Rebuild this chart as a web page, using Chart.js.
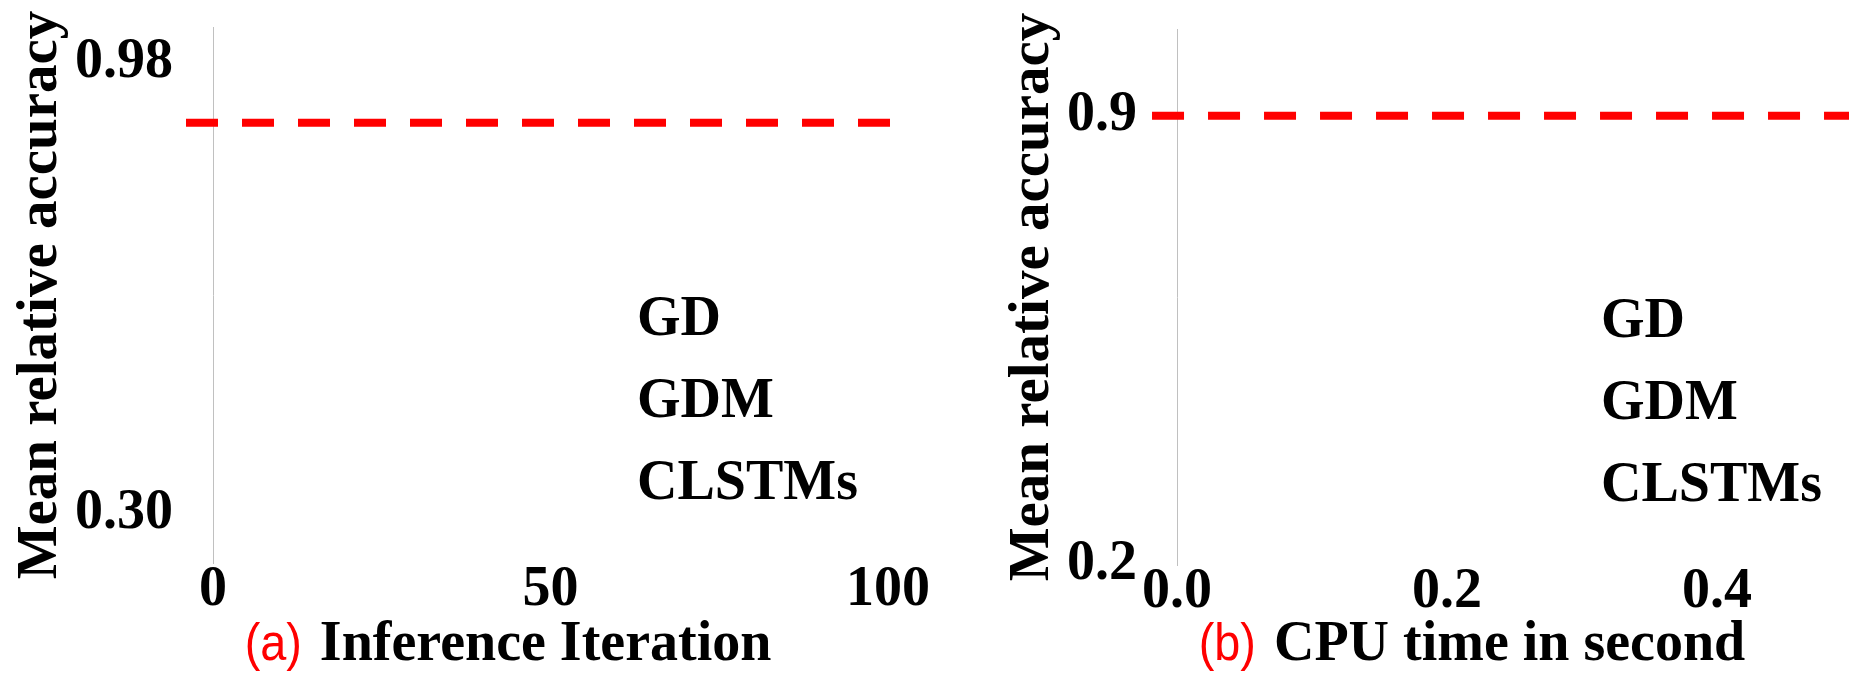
<!DOCTYPE html>
<html>
<head>
<meta charset="utf-8">
<script src="https://cdn.jsdelivr.net/npm/chart.js@4.4.1/dist/chart.umd.min.js"></script>
<style>
  html, body { margin: 0; padding: 0; background: #fff; overflow: hidden; }
  body { width: 1849px; height: 673px; position: relative; }
  canvas { position: absolute; top: 0; }
  #iterChart { left: 0; }
  #cpuChart { left: 960px; }
</style>
</head>
<body>
<canvas id="iterChart" width="932" height="673"></canvas>
<canvas id="cpuChart" width="930" height="673"></canvas>
<script>
// legend series (no visible points in either panel)
const seriesNames = ["GD", "GDM", "CLSTMs"];
const iterGD = [];
const iterGDM = [];
const iterCLSTMs = [];
const cpuGD = [];
const cpuGDM = [];
const cpuCLSTMs = [];

// red dashed reference level
const iterRefX = [-4, 100.4];
const iterRefY = [0.89, 0.89];
const cpuRefX = [-0.0185, 0.5];
const cpuRefY = [0.9, 0.9];

// tick values + labels
const iterXTicks = [0, 50, 100];
const iterXLabels = ["0", "50", "100"];
const iterYTicks = [0.3, 0.98];
const iterYLabels = ["0.30", "0.98"];
const cpuXTicks = [0, 0.2, 0.4];
const cpuXLabels = ["0.0", "0.2", "0.4"];
const cpuYTicks = [0.2, 0.9];
const cpuYLabels = ["0.2", "0.9"];

const SERIF = "'Liberation Serif', 'Times New Roman', serif";
const SANS = "'Liberation Sans', Arial, sans-serif";

// legend drawn inside the plot area, text only
const innerLegend = {
  id: "innerLegend",
  afterDraw(chart, args, opts) {
    const { ctx, chartArea } = chart;
    ctx.save();
    ctx.font = "bold 56px " + SERIF;
    ctx.fillStyle = "#000";
    ctx.textAlign = "left";
    ctx.textBaseline = "alphabetic";
    let row = 0;
    chart.data.datasets.forEach((ds) => {
      if (ds.isRef) return;
      ctx.fillText(ds.label, chartArea.left + opts.x, chartArea.top + opts.top + row * opts.step);
      row++;
    });
    ctx.restore();
  },
};

// x axis caption with red "(a)" prefix
const xCaption = {
  id: "xCaption",
  afterDraw(chart, args, opts) {
    const { ctx, chartArea } = chart;
    const squeeze = 0.9; // prefix is a narrow sans
    ctx.save();
    ctx.textBaseline = "alphabetic";
    ctx.textAlign = "left";
    ctx.font = "52px " + SANS;
    const wp = ctx.measureText(opts.prefix).width * squeeze;
    ctx.font = "bold 56px " + SERIF;
    const wm = ctx.measureText(opts.text).width;
    const gap = 18;
    const x = chartArea.left + opts.center - (wp + gap + wm) / 2;
    ctx.save();
    ctx.translate(x, opts.baseline);
    ctx.scale(squeeze, 1);
    ctx.font = "52px " + SANS;
    ctx.fillStyle = "#ff0000";
    ctx.fillText(opts.prefix, 0, 0);
    ctx.restore();
    ctx.font = "bold 56px " + SERIF;
    ctx.fillStyle = "#000";
    ctx.fillText(opts.text, x + wp + gap, opts.baseline);
    ctx.restore();
  },
};

function makePanel(id, p) {
  const ctx = document.getElementById(id).getContext("2d");
  const series = [p.gd, p.gdm, p.clstm].map((d, i) => ({
    label: seriesNames[i],
    data: d,
    pointRadius: 0,
    borderWidth: 3,
  }));
  const ref = {
    label: "reference",
    isRef: true,
    data: p.refX.map((x, i) => ({ x: x, y: p.refY[i] })),
    borderColor: "#ff0000",
    borderWidth: 8,
    borderDash: [32, 24],
    pointRadius: 0,
    fill: false,
    clip: false,
  };
  return new Chart(ctx, {
    type: "line",
    data: { datasets: [ref].concat(series) },
    plugins: [innerLegend, xCaption],
    options: {
      responsive: false,
      animation: false,
      layout: { padding: p.padding },
      plugins: {
        legend: { display: false },
        tooltip: { enabled: false },
        innerLegend: { x: 424, top: 308, step: 82 },
        xCaption: { prefix: p.prefix, text: p.xTitle, center: 295, baseline: 660 },
      },
      scales: {
        x: {
          type: "linear",
          min: p.xMin,
          max: p.xMax,
          grid: { display: false, drawTicks: false },
          border: { display: false },
          afterBuildTicks: (axis) => {
            axis.ticks = p.xTicks.map((v) => ({ value: v }));
          },
          afterFit: (axis) => {
            axis.height = p.xHeight;
            axis.paddingLeft = axis.paddingRight = axis.paddingTop = axis.paddingBottom = 0;
          },
          ticks: {
            autoSkip: false,
            maxRotation: 0,
            padding: 0,
            color: "#000",
            font: { family: SERIF, size: 56, weight: "bold", lineHeight: 1 },
            callback: (v, i) => p.xLabels[i],
          },
        },
        y: {
          type: "linear",
          min: p.yMin,
          max: p.yMax,
          grid: { display: false, drawTicks: false },
          border: { display: true, color: "#c0c0c0", width: 1 },
          afterBuildTicks: (axis) => {
            axis.ticks = p.yTicks.map((v) => ({ value: v }));
          },
          afterFit: (axis) => {
            axis.width = p.yWidth;
            axis.paddingLeft = axis.paddingRight = axis.paddingTop = axis.paddingBottom = 0;
          },
          ticks: {
            padding: 40,
            color: "#000",
            font: { family: SERIF, size: 56, weight: "bold", lineHeight: 1 },
            callback: (v, i) => p.yLabels[i],
          },
          title: {
            display: true,
            text: "Mean relative accuracy",
            color: "#000",
            padding: { top: p.yTitlePad, bottom: 0 },
            font: { family: SERIF, size: 57, weight: "bold", lineHeight: 1.2 },
          },
        },
      },
    },
  });
}

makePanel("iterChart", {
  gd: iterGD, gdm: iterGDM, clstm: iterCLSTMs,
  refX: iterRefX, refY: iterRefY,
  xTicks: iterXTicks, xLabels: iterXLabels,
  yTicks: iterYTicks, yLabels: iterYLabels,
  xMin: 0, xMax: 100, yMin: 0.2261, yMax: 1.0343,
  padding: { left: 0, top: 27, right: 44, bottom: 0 },
  yWidth: 213, xHeight: 110, yTitlePad: 7,
  prefix: "(a)", xTitle: "Inference Iteration",
});

makePanel("cpuChart", {
  gd: cpuGD, gdm: cpuGDM, clstm: cpuCLSTMs,
  refX: cpuRefX, refY: cpuRefY,
  xTicks: cpuXTicks, xLabels: cpuXLabels,
  yTicks: cpuYTicks, yLabels: cpuYLabels,
  xMin: 0, xMax: 0.5, yMin: 0.2, yMax: 1.035,
  padding: { left: 0, top: 29, right: 38, bottom: 0 },
  yWidth: 217, xHeight: 108, yTitlePad: 39,
  prefix: "(b)", xTitle: "CPU time in second",
});
</script>
</body>
</html>
